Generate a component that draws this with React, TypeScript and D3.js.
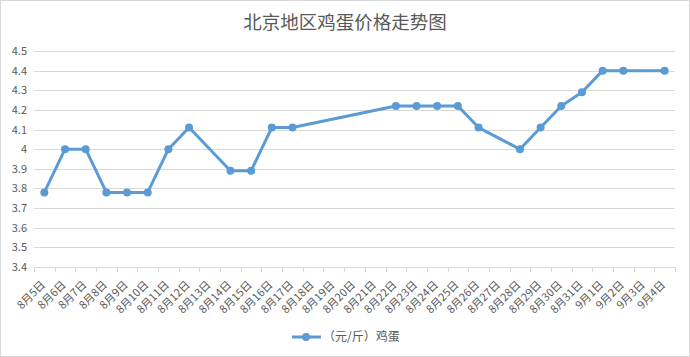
import React from "react";
import * as d3 from "d3";

const categories: string[] = [
  "8月5日","8月6日","8月7日","8月8日","8月9日","8月10日","8月11日","8月12日","8月13日","8月14日",
  "8月15日","8月16日","8月17日","8月18日","8月19日","8月20日","8月21日","8月22日","8月23日","8月24日",
  "8月25日","8月26日","8月27日","8月28日","8月29日","8月30日","8月31日","9月1日","9月2日","9月3日","9月4日",
];
const eggPrices: (number | null)[] = [
  3.78, 4.0, 4.0, 3.78, 3.78, 3.78, 4.0, 4.11, null, 3.89,
  3.89, 4.11, 4.11, null, null, null, null, 4.22, 4.22, 4.22,
  4.22, 4.11, null, 4.0, 4.11, 4.22, 4.29, 4.4, 4.4, null, 4.4,
];
const yTicks: number[] = [3.4, 3.5, 3.6, 3.7, 3.8, 3.9, 4, 4.1, 4.2, 4.3, 4.4, 4.5];
const title = "北京地区鸡蛋价格走势图";
const seriesName = "（元/斤）鸡蛋";

const W = 690, H = 357;
const FONT = "'Noto Sans CJK SC', 'Noto Sans', sans-serif";
const TXT = "#595959";
const GRID = "#d9d9d9";
const BLUE = "#5B9BD5";

export default function App() {
  const x = d3.scaleBand<string>().domain(categories).range([34, 675]).padding(0);
  const y = d3.scaleLinear().domain([3.4, 4.5]).range([267, 51]);
  const pts = categories
    .map((c, i) => ({ c, v: eggPrices[i] }))
    .filter((d) => d.v !== null) as { c: string; v: number }[];
  const line = d3
    .line<{ c: string; v: number }>()
    .x((d) => (x(d.c) as number) + x.bandwidth() / 2)
    .y((d) => y(d.v));
  const boundaries = categories.map((c) => x(c) as number).concat([675]);

  return (
    <svg
      width={W}
      height={H}
      style={{ position: "absolute", left: 0, top: 0, background: "#fff" }}
      fontFamily={FONT}
    >
      <rect x={0.5} y={0.5} width={W - 1} height={H - 1} fill="#fff" stroke={GRID} />
      <text x={345} y={29} textAnchor="middle" fontSize={18.5} fill={TXT}>
        {title}
      </text>
      {yTicks.map((t) => (
        <g key={t}>
          <line x1={34} x2={675} y1={Math.round(y(t)) + 0.5} y2={Math.round(y(t)) + 0.5} stroke={GRID} />
          <text x={27} y={y(t) + 4} textAnchor="end" fontSize={11} fill={TXT}>
            {String(t)}
          </text>
        </g>
      ))}
      {boundaries.map((b, i) => (
        <line key={i} x1={Math.round(b) + 0.5} x2={Math.round(b) + 0.5} y1={267} y2={272} stroke={GRID} />
      ))}
      {categories.map((c) => {
        const cx = (x(c) as number) + x.bandwidth() / 2 + 1.5;
        const cy = 285.5;
        return (
          <text
            key={c}
            x={cx}
            y={cy}
            textAnchor="end"
            fontSize={11}
            fill={TXT}
            transform={`rotate(-45 ${cx} ${cy})`}
          >
            {c}
          </text>
        );
      })}
      <path d={line(pts) || ""} fill="none" stroke={BLUE} strokeWidth={3} strokeLinejoin="round" />
      {pts.map((d) => (
        <circle key={d.c} cx={(x(d.c) as number) + x.bandwidth() / 2} cy={y(d.v)} r={4} fill={BLUE} />
      ))}
      <line x1={292} x2={321} y1={337} y2={337} stroke={BLUE} strokeWidth={3} />
      <circle cx={306} cy={337} r={4} fill={BLUE} />
      <text x={323} y={341} fontSize={12} fill={TXT}>
        {seriesName}
      </text>
    </svg>
  );
}
